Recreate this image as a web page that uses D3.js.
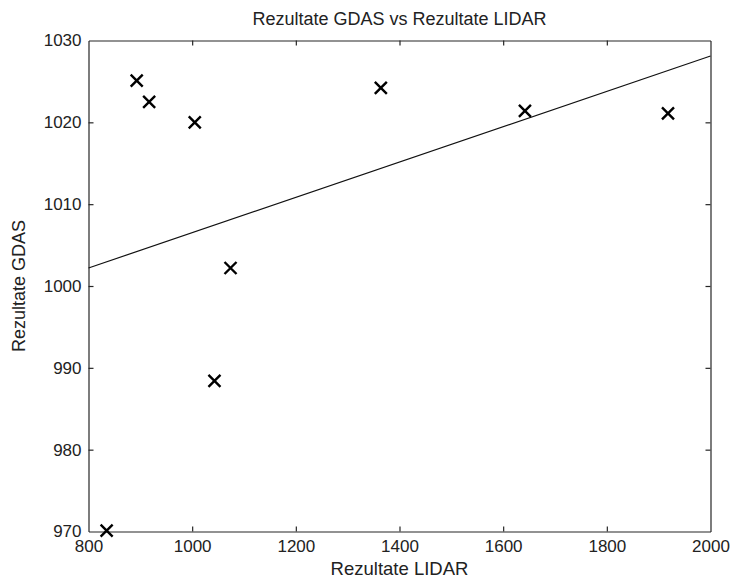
<!DOCTYPE html>
<html>
<head>
<meta charset="utf-8">
<script src="https://d3js.org/d3.v7.min.js"></script>
<style>
  html, body { margin: 0; padding: 0; background: #fff; }
  svg { display: block; }
  text { font-family: "Liberation Sans", Arial, sans-serif; fill: #222; }
</style>
</head>
<body>
<svg id="chart" width="732" height="582"></svg>
<script>
// ---- data ----
const lidar = [893, 917, 1005, 1074, 1043, 1364, 1642, 1918, 835];
const gdas  = [1025.1, 1022.5, 1020.0, 1002.2, 988.4, 1024.2, 1021.4, 1021.1, 970.1];
const fitX = [800, 2000];
const fitY = [1002.2, 1028.1];
const xTicks = [800, 1000, 1200, 1400, 1600, 1800, 2000];
const yTicks = [970, 980, 990, 1000, 1010, 1020, 1030];
const titleText = "Rezultate GDAS vs Rezultate LIDAR";
const xLabel = "Rezultate LIDAR";
const yLabel = "Rezultate GDAS";

// ---- layout ----
const W = 732, H = 582;
const L = 88.5, R = 710.5, T = 40.5, B = 531.5;
const svg = d3.select("#chart");
const x = d3.scaleLinear().domain([800, 2000]).range([L, R]);
const y = d3.scaleLinear().domain([970, 1030]).range([B, T]);
const axisColor = "#262626";
const fs = 17;

const gx = svg.append("g").attr("transform", `translate(0,${B})`)
  .call(d3.axisBottom(x).tickValues(xTicks).tickFormat(d3.format("d")).tickSizeInner(-5).tickSizeOuter(0).tickPadding(8));
const gxt = svg.append("g").attr("transform", `translate(0,${T})`)
  .call(d3.axisTop(x).tickValues(xTicks).tickFormat("").tickSizeInner(-5).tickSizeOuter(0));
const gy = svg.append("g").attr("transform", `translate(${L},0)`)
  .call(d3.axisLeft(y).tickValues(yTicks).tickFormat(d3.format("d")).tickSizeInner(-5).tickSizeOuter(0).tickPadding(7));
const gyr = svg.append("g").attr("transform", `translate(${R},0)`)
  .call(d3.axisRight(y).tickValues(yTicks).tickFormat("").tickSizeInner(-5).tickSizeOuter(0));

[gx, gxt, gy, gyr].forEach(g => {
  g.select(".domain").attr("stroke", axisColor).attr("stroke-width", 1.2);
  g.selectAll(".tick line").attr("stroke", axisColor).attr("stroke-width", 1.2);
  g.selectAll(".tick text").attr("font-size", fs).attr("font-family", "Liberation Sans, Arial, sans-serif").attr("fill", "#222");
});
gx.selectAll(".tick line").filter(d => d === 800 || d === 2000).remove();
gxt.selectAll(".tick line").filter(d => d === 800 || d === 2000).remove();
gy.selectAll(".tick line").filter(d => d === 970 || d === 1030).remove();
gyr.selectAll(".tick line").filter(d => d === 970 || d === 1030).remove();

// fitted line
svg.append("line")
  .attr("x1", x(fitX[0])).attr("y1", y(fitY[0]))
  .attr("x2", x(fitX[1])).attr("y2", y(fitY[1]))
  .attr("stroke", "#111").attr("stroke-width", 1.2);

// x markers
const s = 6;
const pts = lidar.map((v, i) => [v, gdas[i]]);
const mk = svg.append("g").attr("stroke", "#000").attr("stroke-width", 2.4).attr("fill", "none");
mk.selectAll("path").data(pts).join("path")
  .attr("d", d => {
    const cx = x(d[0]), cy = y(d[1]);
    return `M${cx - s},${cy - s}L${cx + s},${cy + s}M${cx - s},${cy + s}L${cx + s},${cy - s}`;
  });

// title and labels
svg.append("text").attr("x", (L + R) / 2).attr("y", 25).attr("text-anchor", "middle")
  .attr("font-size", 18).text(titleText);
svg.append("text").attr("x", (L + R) / 2).attr("y", 575).attr("text-anchor", "middle")
  .attr("font-size", 18.5).text(xLabel);
svg.append("text").attr("transform", `translate(25,${(T + B) / 2}) rotate(-90)`).attr("text-anchor", "middle")
  .attr("font-size", 18).text(yLabel);
</script>
</body>
</html>
